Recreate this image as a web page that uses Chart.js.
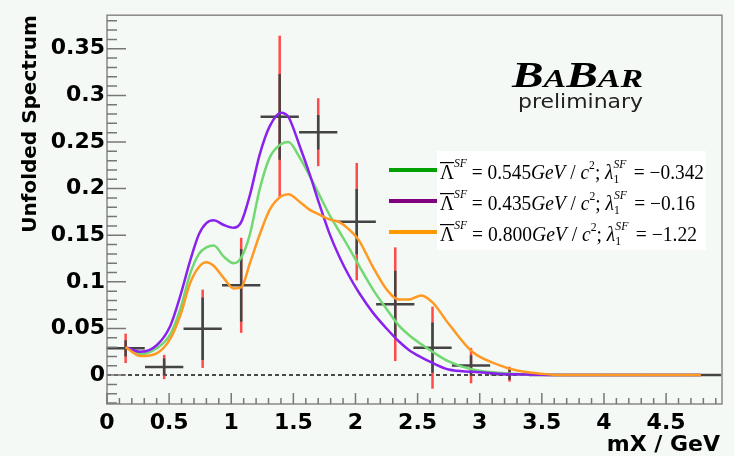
<!DOCTYPE html>
<html>
<head>
<meta charset="utf-8">
<script src="https://cdn.jsdelivr.net/npm/chart.js@4/dist/chart.umd.min.js"></script>
<style>
  html, body { margin: 0; padding: 0; background: #f5f9f6; }
  canvas { display: block; }
</style>
</head>
<body>
<canvas id="Chart" width="734" height="456"></canvas>
<script>
// unfolded spectrum, one entry per bin
var binX = [0.15, 0.46, 0.77, 1.08, 1.39, 1.70, 2.01, 2.32, 2.62, 2.93, 3.24, 3.55, 3.86, 4.17, 4.48, 4.79];
var binY = [0.0287, 0.0087, 0.0497, 0.0963, 0.277, 0.2605, 0.1646, 0.076, 0.0294, 0.0102, 0.001, 0, 0, 0, 0, 0];
var statErr = [0.0087, 0.009, 0.0335, 0.039, 0.046, 0.0185, 0.035, 0.036, 0.027, 0.011, 0.006, 0, 0, 0, 0, 0];
var totErr = [0.0158, 0.013, 0.042, 0.051, 0.087, 0.0365, 0.063, 0.061, 0.044, 0.019, 0.008, 0, 0, 0, 0, 0];
var binHalf = 0.154;

// shape function curves
var curveX = [0.15, 0.27, 0.40, 0.51, 0.59, 0.67, 0.74, 0.80, 0.86, 0.94, 1.02, 1.08, 1.15, 1.23, 1.31, 1.40, 1.46, 1.55, 1.63, 1.71,
              1.79, 1.87, 1.95, 2.03, 2.14, 2.25, 2.35, 2.43, 2.53, 2.62, 2.75, 2.94, 3.15, 3.30, 3.50, 3.65, 4.00, 4.78];
var purple = [0.030, 0.025, 0.032, 0.053, 0.085, 0.123, 0.151, 0.163, 0.166, 0.161, 0.158, 0.164, 0.193, 0.237, 0.267, 0.2815, 0.277, 0.246, 0.216, 0.183,
              0.152, 0.127, 0.106, 0.088, 0.067, 0.050, 0.036, 0.027, 0.019, 0.013, 0.006, 0.0035, 0.0015, 0.0008, 0.0003, 0, 0, 0];
var green = [0.030, 0.0225, 0.0287, 0.044, 0.071, 0.109, 0.130, 0.137, 0.139, 0.127, 0.120, 0.126, 0.151, 0.200, 0.2335, 0.2476, 0.250, 0.2335, 0.214, 0.193,
             0.172, 0.154, 0.136, 0.117, 0.092, 0.071, 0.053, 0.043, 0.033, 0.025, 0.0147, 0.006, 0.0025, 0.0012, 0.0005, 0, 0, 0];
var orange = [0.030, 0.0205, 0.0234, 0.039, 0.064, 0.099, 0.116, 0.121, 0.117, 0.104, 0.093, 0.094, 0.120, 0.151, 0.1775, 0.1915, 0.194, 0.186, 0.1775, 0.172,
              0.167, 0.164, 0.156, 0.144, 0.116, 0.092, 0.081, 0.081, 0.0855, 0.078, 0.055, 0.025, 0.011, 0.005, 0.0014, 0, 0, 0];

// legend parameters
var lamBar = ['0.545', '0.435', '0.800'];
var lam1 = ['\u22120.342', '\u22120.16', '\u22121.22'];
var legendColors = ['#00a000', '#800080', '#ff9900'];

function pts(ys) {
    return curveX.map(function (x, i) { return { x: x, y: ys[i] }; });
}

function fmt(v) {
    return String(Number(v.toFixed(3)));
}

function setFont(ctx, p) {
    ctx.font = (p.i ? 'italic ' : '') + p.s + 'px "Liberation Serif"';
}

// draws a row of mixed roman/italic/super/subscript pieces, squeezed or stretched to a width
function richText(ctx, x, y, parts, width) {
    var w = 0;
    parts.forEach(function (p) {
        setFont(ctx, p);
        if (!p.keep) w += ctx.measureText(p.t).width;
    });
    ctx.save();
    ctx.translate(x, y);
    ctx.scale(width / w, 1);
    var cx = 0;
    parts.forEach(function (p) {
        setFont(ctx, p);
        ctx.fillText(p.t, cx, p.dy || 0);
        if (p.bar) {
            var bw = ctx.measureText(p.t).width;
            ctx.fillRect(cx, -17, bw, 1.2);
        }
        if (!p.keep) cx += ctx.measureText(p.t).width;
    });
    ctx.restore();
}

var decor = {
    id: 'decor',
    beforeDatasetsDraw: function (chart) {
        var ctx = chart.ctx, xs = chart.scales.x, ys = chart.scales.y, a = chart.chartArea;
        ctx.save();
        // zero line
        ctx.strokeStyle = '#111';
        ctx.lineWidth = 1.5;
        ctx.setLineDash([4, 3]);
        ctx.beginPath();
        ctx.moveTo(a.left, ys.getPixelForValue(0));
        ctx.lineTo(a.right, ys.getPixelForValue(0));
        ctx.stroke();
        ctx.setLineDash([]);
        // error bars
        var meta = chart.getDatasetMeta(3);
        meta.data.forEach(function (el, i) {
            var px = el.x, py = el.y;
            ctx.lineWidth = 2.5;
            ctx.strokeStyle = '#ff4a4a';
            ctx.beginPath();
            ctx.moveTo(px, ys.getPixelForValue(binY[i] + totErr[i]));
            ctx.lineTo(px, ys.getPixelForValue(binY[i] - totErr[i]));
            ctx.stroke();
            ctx.strokeStyle = '#444';
            ctx.beginPath();
            ctx.moveTo(px, ys.getPixelForValue(binY[i] + statErr[i]));
            ctx.lineTo(px, ys.getPixelForValue(binY[i] - statErr[i]));
            ctx.moveTo(xs.getPixelForValue(binX[i] - binHalf), py);
            ctx.lineTo(xs.getPixelForValue(binX[i] + binHalf), py);
            ctx.stroke();
        });
        ctx.restore();
    },
    afterDraw: function (chart) {
        var ctx = chart.ctx, xs = chart.scales.x, ys = chart.scales.y, a = chart.chartArea;
        ctx.save();
        // frame
        ctx.strokeStyle = '#888';
        ctx.lineWidth = 1.5;
        ctx.strokeRect(a.left, a.top, a.right - a.left, a.bottom - a.top);
        // ticks inside the frame
        ctx.strokeStyle = '#777';
        ctx.beginPath();
        for (var k = -3; k <= 38; k++) {
            var yp = ys.getPixelForValue(k / 100);
            ctx.moveTo(a.left, yp);
            ctx.lineTo(a.left + (k % 5 === 0 ? 19 : 10), yp);
        }
        for (var m = 0; m <= 49; m++) {
            var xp = xs.getPixelForValue(m / 10);
            ctx.moveTo(xp, a.bottom);
            ctx.lineTo(xp, a.bottom - (m % 5 === 0 ? 11 : 6));
        }
        ctx.stroke();

        // axis titles
        ctx.fillStyle = '#000';
        ctx.font = 'bold 22px "DejaVu Sans"';
        ctx.textAlign = 'right';
        ctx.fillText('mX / GeV', 720, 451);
        ctx.save();
        ctx.translate(31, 124);
        ctx.rotate(-Math.PI / 2);
        ctx.textAlign = 'center';
        ctx.textBaseline = 'middle';
        ctx.font = 'bold 20px "DejaVu Sans"';
        ctx.fillText('Unfolded Spectrum', 0, 0);
        ctx.restore();

        // BaBar logo
        ctx.textAlign = 'left';
        var logo = [['B', 35], ['A', 25], ['B', 35], ['AR', 25]];
        var lw = 0;
        logo.forEach(function (p) {
            ctx.font = 'italic bold ' + p[1] + 'px "Liberation Serif"';
            lw += ctx.measureText(p[0]).width;
        });
        ctx.save();
        ctx.translate(512, 87);
        ctx.scale(131 / lw, 1);
        var bx = 0;
        logo.forEach(function (p) {
            ctx.font = 'italic bold ' + p[1] + 'px "Liberation Serif"';
            ctx.fillText(p[0], bx, 0);
            bx += ctx.measureText(p[0]).width;
        });
        ctx.restore();
        ctx.fillStyle = '#222';
        ctx.font = '20px "DejaVu Sans"';
        ctx.save();
        ctx.translate(518, 108);
        ctx.scale(125 / ctx.measureText('preliminary').width, 1);
        ctx.fillText('preliminary', 0, 0);
        ctx.restore();

        // legend
        ctx.fillStyle = '#fff';
        ctx.fillRect(437, 151, 269, 99);
        for (var r = 0; r < 3; r++) {
            var by = 179 + r * 31;
            ctx.strokeStyle = legendColors[r];
            ctx.lineWidth = 4;
            ctx.beginPath();
            ctx.moveTo(389, by - 9);
            ctx.lineTo(437, by - 9);
            ctx.stroke();
            ctx.fillStyle = '#000';
            richText(ctx, 440, by, [
                { t: '\u039b', s: 20, bar: true },
                { t: 'SF', s: 12, i: true, dy: -12 },
                { t: ' = ' + lamBar[r], s: 20 },
                { t: 'GeV', s: 20, i: true },
                { t: ' / ', s: 20 },
                { t: 'c', s: 20, i: true },
                { t: '2', s: 12, dy: -10 },
                { t: '; ', s: 20 },
                { t: '\u03bb', s: 20, i: true },
                { t: 'SF', s: 12, i: true, dy: -11, keep: true },
                { t: '1', s: 12, dy: 4 },
                { t: '\u2002 = ' + lam1[r], s: 20 }
            ], r === 0 ? 264 : (r === 1 ? 255 : 257));
        }
        ctx.restore();
    }
};

new Chart(document.getElementById('Chart'), {
    type: 'line',
    data: {
        datasets: [{
            data: pts(orange),
            borderColor: '#ff9922',
            borderWidth: 2.5,
            pointRadius: 0,
            cubicInterpolationMode: 'monotone',
            order: 1
        }, {
            data: pts(purple),
            borderColor: '#8a22ee',
            borderWidth: 2.5,
            pointRadius: 0,
            cubicInterpolationMode: 'monotone',
            order: 2
        }, {
            data: pts(green),
            borderColor: '#72d872',
            borderWidth: 2.5,
            pointRadius: 0,
            cubicInterpolationMode: 'monotone',
            order: 3
        }, {
            data: binX.map(function (x, i) { return { x: x, y: binY[i] }; }),
            showLine: false,
            pointRadius: 0,
            order: 4
        }]
    },
    options: {
        responsive: false,
        animation: false,
        events: [],
        layout: { padding: { top: 7, right: 12, left: 0, bottom: 0 } },
        plugins: { legend: { display: false }, tooltip: { enabled: false } },
        scales: {
            x: {
                type: 'linear',
                min: 0,
                max: 4.95,
                grid: { display: false, drawTicks: false },
                border: { display: false },
                ticks: {
                    stepSize: 0.5,
                    includeBounds: false,
                    autoSkip: false,
                    maxRotation: 0,
                    padding: 6,
                    color: '#000',
                    font: { family: 'DejaVu Sans', weight: 'bold', size: 22 },
                    callback: fmt
                },
                afterFit: function (s) { s.height = 52; }
            },
            y: {
                min: -0.031,
                max: 0.386,
                grid: { display: false, drawTicks: false },
                border: { display: false },
                ticks: {
                    stepSize: 0.05,
                    includeBounds: false,
                    autoSkip: false,
                    padding: 2,
                    color: '#000',
                    font: { family: 'DejaVu Sans', weight: 'bold', size: 22 },
                    callback: fmt
                },
                afterFit: function (s) { s.width = 107; }
            }
        }
    },
    plugins: [decor]
});
</script>
</body>
</html>
